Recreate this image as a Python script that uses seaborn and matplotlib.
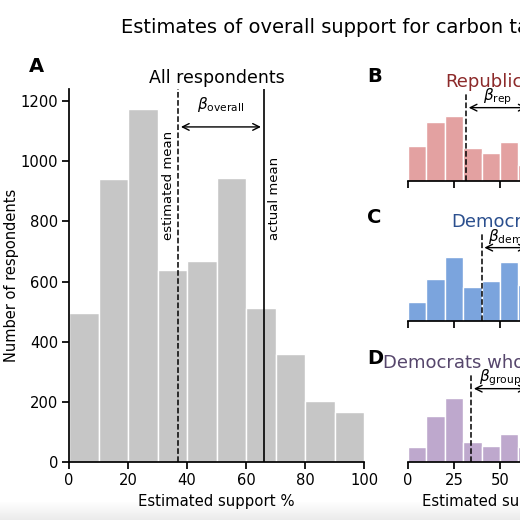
import numpy as np
import pandas as pd
import matplotlib
matplotlib.use('Agg')
import matplotlib.pyplot as plt
import seaborn as sns

# bins of estimated support (%): 10 bins of width 10 on 0-100
bin_centers = np.arange(5, 100, 10)

# counts per bin
all_counts = [495, 940, 1173, 637, 668, 944, 512, 359, 203, 166]
rep_counts = [175, 295, 325, 165, 137, 195, 80, 60, 35, 30]
dem_counts = [95, 210, 320, 170, 200, 295, 180, 120, 70, 60]
grp_counts = [75, 230, 320, 100, 80, 140, 75, 50, 30, 25]

# means
est_mean_all = 37
est_mean_rep = 31.5
est_mean_dem = 40
est_mean_grp = 34.3
actual_mean = 66

sns.set_theme(style='ticks', rc={'axes.linewidth': 1.25, 'xtick.major.width': 1.25,
                                 'ytick.major.width': 1.25, 'xtick.major.size': 5,
                                 'ytick.major.size': 5, 'text.color': 'black',
                                 'axes.labelcolor': 'black', 'axes.edgecolor': 'black',
                                 'xtick.color': 'black', 'ytick.color': 'black'})
plt.rcParams['font.family'] = ['DejaVu Sans']

fig = plt.figure(figsize=(5.2, 5.2), dpi=100)

# faint fade at the bottom
fade = fig.add_axes([0, 0, 1, 0.035], zorder=-5)
fade.imshow(np.linspace(1, 0.92, 20).reshape(-1, 1), cmap='gray', vmin=0, vmax=1,
            aspect='auto', extent=[0, 1, 0, 1])
fade.axis('off')

fig.text(0.2327, 0.948, 'Estimates of overall support for carbon tax', fontsize=14,
         va='center', ha='left')


def hist(ax, counts, color):
    df = pd.DataFrame({'support': bin_centers, 'n': counts})
    sns.histplot(data=df, x='support', weights='n', bins=10, binrange=(0, 100),
                 color=color, edgecolor='white', linewidth=1, alpha=1, ax=ax)


# ===== Panel A =====
axA = fig.add_axes([0.1327, 0.1115, 0.5673, 0.7173])
hist(axA, all_counts, '#c6c6c6')
axA.set_xlim(0, 100)
axA.set_ylim(0, 1240)
axA.set_xticks([0, 20, 40, 60, 80, 100])
axA.set_yticks([0, 200, 400, 600, 800, 1000, 1200])
axA.tick_params(labelsize=10.6, pad=3)
axA.set_xlabel('Estimated support %', fontsize=10.7)
axA.set_ylabel('Number of respondents', fontsize=10.5, labelpad=1)
axA.axvline(est_mean_all, color='black', ls='--', lw=1.1)
axA.axvline(actual_mean, color='black', lw=1.2)
axA.text(est_mean_all - 1.2, 738, 'estimated mean', rotation=90, ha='right',
         va='bottom', fontsize=9.5)
axA.text(actual_mean + 1.3, 738, 'actual mean', rotation=90, ha='left',
         va='bottom', fontsize=9.5)
axA.annotate('', xy=(est_mean_all, 1114), xytext=(actual_mean, 1114),
             arrowprops=dict(arrowstyle='<->', color='black', lw=1))
axA.text((est_mean_all + actual_mean) / 2, 1190, r'$\beta_{\mathrm{overall}}$',
         ha='center', va='center', fontsize=11)
axA.text(0.5, 1 + 6 / 373, 'All respondents', transform=axA.transAxes, ha='center',
         va='baseline', fontsize=12.5)
sns.despine(ax=axA)
fig.text(0.056, 0.873, 'A', fontsize=14, fontweight='bold', ha='left', va='center')

# ===== Panels B, C, D =====
panels = [
    ('B', 'Republicans', rep_counts, est_mean_rep, '#e3a1a1', '#8c2a2a',
     r'$\beta_{\mathrm{rep}}$', 0.6519, 0.852),
    ('C', 'Democrats', dem_counts, est_mean_dem, '#7ba4dd', '#2b4f8e',
     r'$\beta_{\mathrm{dem}}$', 0.3827, 0.581),
    ('D', 'Democrats who support it', grp_counts, est_mean_grp, '#bea8cd', '#56466c',
     r'$\beta_{\mathrm{group}}$', 0.1115, 0.3115),
]
for letter, name, counts, est, bar_col, txt_col, beta, bottom, ly in panels:
    ax = fig.add_axes([0.7846, bottom, 0.3538, 0.172])
    hist(ax, counts, bar_col)
    ax.set_xlim(0, 100)
    ax.set_ylim(0, 445)
    ax.set_yticks([])
    ax.set_ylabel('')
    ax.set_xticks([0, 25, 50, 75, 100])
    ax.tick_params(labelsize=10.6, pad=3)
    if letter == 'D':
        ax.set_xlabel('Estimated support %', fontsize=10.7)
    else:
        ax.set_xticklabels([])
        ax.set_xlabel('')
    ax.axvline(est, color='black', ls='--', lw=1.1)
    ax.axvline(actual_mean, color='black', lw=1.2)
    ax.annotate('', xy=(est, 365), xytext=(actual_mean, 365),
                arrowprops=dict(arrowstyle='<->', color='black', lw=1))
    ax.text((est + actual_mean) / 2, 420, beta, ha='center', va='center', fontsize=11)
    ax.text(0.5, 1 + 5 / 89, name, transform=ax.transAxes, ha='center',
            va='baseline', fontsize=13, color=txt_col)
    sns.despine(ax=ax, left=True)
    fig.text(0.706, ly, letter, fontsize=14, fontweight='bold', ha='left', va='center')

fig.savefig('out.png', dpi=100)
